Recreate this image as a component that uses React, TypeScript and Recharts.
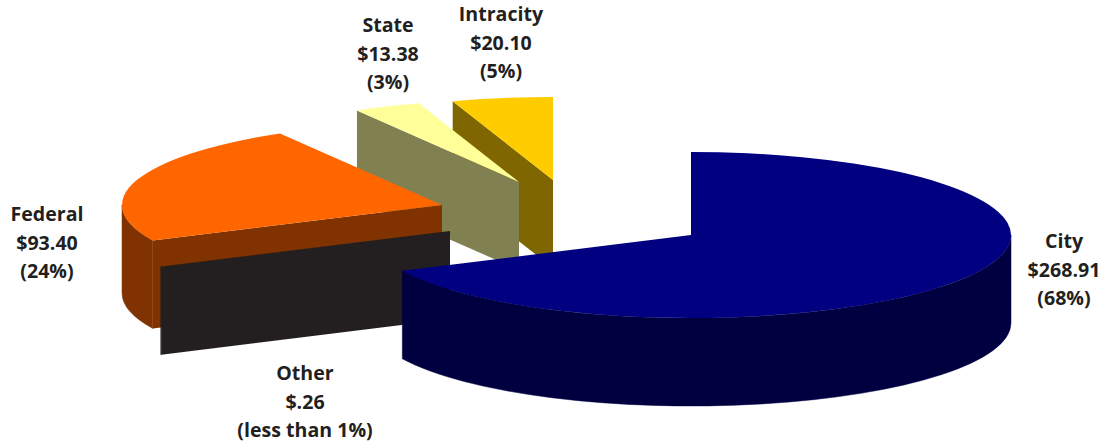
import React from 'react';
import { Pie, PieChart } from 'recharts';

// drawn back to front, counter-clockwise from 12 o'clock
const sources = ['Intracity', 'State', 'Federal', 'Other', 'City'];
const amounts = [20.1, 13.38, 93.4, 0.26, 268.91];
const amountLabels = ['$20.10', '$13.38', '$93.40', '$.26', '$268.91'];
const shareLabels = ['(5%)', '(3%)', '(24%)', '(less than 1%)', '(68%)'];

const topColors = ['#ffcc00', '#ffff99', '#ff6600', '#231f20', '#000080'];
const sideColors = ['#806600', '#808050', '#803300', '#231f20', '#000040'];

// how far each slice is pulled out of the pie, in px
const explodeX = [-138, -172, -249, -241, 0];
const explodeY = [-55, -53, -30, -4, 0];

// centre x and first baseline of each label
const labelX = [501, 388, 47, 305, 1064];
const labelY = [21, 32, 221, 380, 248];

const data = sources.map((name, i) => ({ name, value: amounts[i] }));

const WIDTH = 1104;
const HEIGHT = 445;
const RX = 320;
const RY = 83;
const DEPTH = 88;
const RAD = Math.PI / 180;

const pt = (cx: number, cy: number, deg: number) => [
  cx + RX * Math.cos(deg * RAD),
  cy - RY * Math.sin(deg * RAD),
];

// arc path from a1 to a2 (a2 > a1), counter-clockwise on screen
const arcTo = (cx: number, cy: number, a1: number, a2: number) => {
  const [x, y] = pt(cx, cy, a2);
  return `A${RX} ${RY} 0 ${a2 - a1 > 180 ? 1 : 0} 0 ${x} ${y}`;
};

const wall = (a: number[], b: number[]) =>
  `M${a[0]} ${a[1]}L${b[0]} ${b[1]}L${b[0]} ${b[1] + DEPTH}L${a[0]} ${a[1] + DEPTH}Z`;

const Slice3D = (props: any) => {
  const i = sources.indexOf(props.name);
  const cx = props.cx + explodeX[i];
  const cy = props.cy + explodeY[i];
  const a1 = Math.min(props.startAngle, props.endAngle);
  const a2 = Math.max(props.startAngle, props.endAngle);
  const c = [cx, cy];
  const p1 = pt(cx, cy, a1);
  const p2 = pt(cx, cy, a2);
  const side = sideColors[i];

  // the part of the rim on the lower half of the ellipse faces the viewer
  const from = Math.max(a1, 180);
  const to = Math.min(a2, 360);
  let rim = null;
  if (to > from) {
    const r1 = pt(cx, cy, from);
    const r2 = pt(cx, cy, to);
    const d =
      `M${r1[0]} ${r1[1]}` +
      arcTo(cx, cy, from, to) +
      `L${r2[0]} ${r2[1] + DEPTH}` +
      `A${RX} ${RY} 0 0 1 ${r1[0]} ${r1[1] + DEPTH}Z`;
    rim = <path d={d} fill={side} stroke={side} strokeWidth={0.5} />;
  }

  const showEnd = Math.sin((a2 + 90) * RAD) < -0.01;
  const showStart = Math.sin((a1 - 90) * RAD) < -0.01;

  return (
    <g>
      {showStart && <path d={wall(c, p1)} fill={side} />}
      {showEnd && <path d={wall(c, p2)} fill={side} />}
      {rim}
      <path
        d={`M${cx} ${cy}L${p1[0]} ${p1[1]}${arcTo(cx, cy, a1, a2)}Z`}
        fill={topColors[i]}
      />
    </g>
  );
};

const SliceLabel = (props: any) => {
  const i = sources.indexOf(props.name);
  const lines = [sources[i], amountLabels[i], shareLabels[i]];
  return (
    <text
      x={labelX[i]}
      y={labelY[i]}
      textAnchor="middle"
      fill="#231f20"
      fontFamily="'Open Sans', sans-serif"
      fontWeight={700}
      fontSize={19.6}
    >
      {lines.map((line, n) => (
        <tspan key={line} x={labelX[i]} dy={n === 0 ? 0 : 28.6}>
          {line}
        </tspan>
      ))}
    </text>
  );
};

export default function App() {
  return (
    <div style={{ position: 'absolute', left: 0, top: 0, width: WIDTH, height: HEIGHT }}>
      <PieChart width={WIDTH} height={HEIGHT} margin={{ top: 0, right: 0, bottom: 0, left: 0 }}>
        <Pie
          data={data}
          dataKey="value"
          nameKey="name"
          cx={691}
          cy={235}
          innerRadius={0}
          outerRadius={RX}
          startAngle={90}
          endAngle={450}
          stroke="none"
          shape={Slice3D}
          label={SliceLabel}
          labelLine={false}
          isAnimationActive={false}
        />
      </PieChart>
    </div>
  );
}
